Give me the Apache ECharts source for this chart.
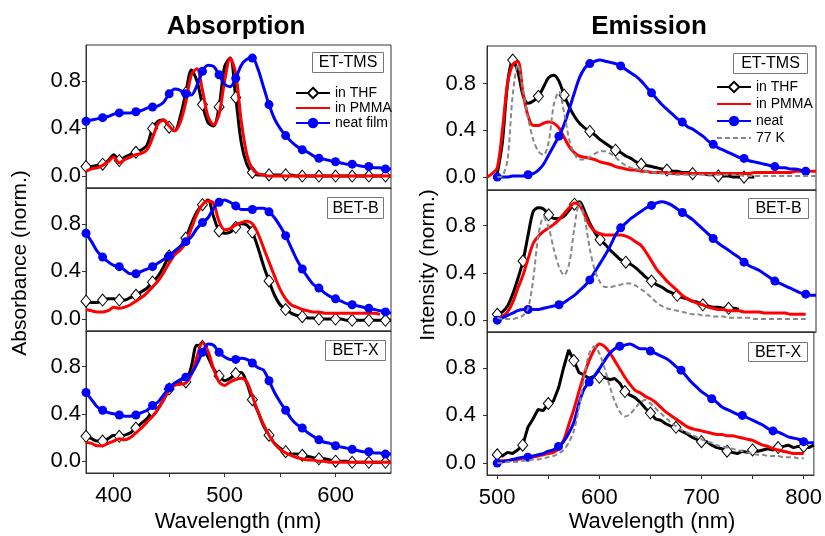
<!DOCTYPE html>
<html>
<head>
<meta charset="utf-8">
<title>Absorption / Emission</title>
<script src="https://cdn.jsdelivr.net/npm/echarts@6/dist/echarts.min.js"></script>
<style>html,body{margin:0;padding:0;background:#fff;}</style>
</head>
<body>
<div id="main" style="width:825px;height:536px;"></div>
<script>
// wavelength grids (nm), 5 nm sampling
var absWl = [];
for (var w = 375; w <= 650; w += 5) absWl.push(w);
var emWl = [];
for (var w2 = 490; w2 <= 810; w2 += 5) emWl.push(w2);

// tick labels
var absTickLabels = [400, 500, 600];
var absTicks = [400, 450, 500, 550, 600];
var emTickLabels = [500, 600, 700, 800];
var emTicks = [500, 550, 600, 650, 700, 750, 800];
var yTickLabels = [0, 0.4, 0.8];
var sampleNames = ['ET-TMS', 'BET-B', 'BET-X'];

// ---- absorption, 375..650 nm ----
var etAbsThf = [
  0.08, 0.08, 0.09, 0.10, 0.13, 0.18, 0.13, 0.16, 0.18, 0.20,
  0.22, 0.26, 0.40, 0.46, 0.47, 0.41, 0.38, 0.50, 0.70, 0.89,
  0.80, 0.60, 0.45, 0.42, 0.58, 0.92, 0.99, 0.66, 0.28, 0.10,
  0.03, 0.01, 0.01, 0.01, 0.01, 0.01, 0.01, 0.01, 0.00, 0.00,
  0.00, 0.00, 0.00, 0.00, 0.00, 0.00, 0.00, 0.00, 0.00, 0.00,
  0.00, 0.00, 0.00, 0.00, 0.00, 0.00];
var etAbsPmma = [
  0.04, 0.06, 0.07, 0.09, 0.12, 0.16, 0.11, 0.14, 0.16, 0.18,
  0.19, 0.22, 0.32, 0.44, 0.47, 0.42, 0.38, 0.45, 0.62, 0.85,
  0.90, 0.72, 0.50, 0.43, 0.52, 0.80, 0.99, 0.86, 0.46, 0.18,
  0.06, 0.02, 0.01, 0.00, 0.00, 0.00, 0.00, 0.00, 0.00, 0.00,
  0.00, 0.00, 0.00, 0.00, 0.00, 0.00, 0.00, 0.00, 0.00, 0.00,
  0.00, 0.00, 0.00, 0.00, 0.00, 0.00];
var etAbsNeat = [
  0.46, 0.47, 0.48, 0.49, 0.50, 0.52, 0.53, 0.53, 0.53, 0.54,
  0.55, 0.57, 0.58, 0.59, 0.62, 0.69, 0.73, 0.72, 0.69, 0.68,
  0.76, 0.88, 0.93, 0.92, 0.85, 0.77, 0.75, 0.82, 0.93, 0.98,
  0.99, 0.90, 0.75, 0.60, 0.48, 0.40, 0.34, 0.29, 0.25, 0.22,
  0.20, 0.17, 0.15, 0.14, 0.13, 0.12, 0.11, 0.10, 0.10, 0.09,
  0.08, 0.08, 0.07, 0.07, 0.06, 0.06];

var betbAbsThf = [
  0.15, 0.14, 0.14, 0.16, 0.17, 0.17, 0.16, 0.16, 0.18, 0.20,
  0.23, 0.26, 0.31, 0.36, 0.44, 0.53, 0.57, 0.61, 0.68, 0.80,
  0.90, 0.96, 1.00, 0.86, 0.74, 0.72, 0.73, 0.77, 0.80, 0.79,
  0.73, 0.60, 0.45, 0.32, 0.20, 0.12, 0.08, 0.05, 0.03, 0.02,
  0.01, 0.01, 0.00, 0.00, 0.00, 0.00, 0.00, -0.01, -0.01, -0.01,
  -0.01, -0.01, -0.01, -0.01, -0.01, -0.01];
var betbAbsPmma = [
  0.08, 0.07, 0.06, 0.06, 0.07, 0.10, 0.09, 0.10, 0.12, 0.15,
  0.18, 0.22, 0.27, 0.32, 0.39, 0.47, 0.54, 0.58, 0.64, 0.76,
  0.88, 0.96, 0.99, 0.97, 0.82, 0.75, 0.76, 0.79, 0.81, 0.82,
  0.80, 0.72, 0.60, 0.48, 0.36, 0.25, 0.17, 0.12, 0.10, 0.08,
  0.07, 0.06, 0.06, 0.05, 0.05, 0.05, 0.05, 0.05, 0.05, 0.05,
  0.05, 0.05, 0.05, 0.04, null, null];
var betbAbsNeat = [
  0.72, 0.65, 0.57, 0.52, 0.48, 0.45, 0.44, 0.41, 0.38, 0.38,
  0.40, 0.42, 0.44, 0.47, 0.50, 0.53, 0.57, 0.61, 0.65, 0.69,
  0.76, 0.81, 0.85, 0.93, 0.98, 1.00, 0.98, 0.95, 0.92, 0.92,
  0.92, 0.93, 0.93, 0.90, 0.85, 0.78, 0.70, 0.60, 0.50, 0.42,
  0.35, 0.29, 0.26, 0.22, 0.19, 0.17, 0.15, 0.13, 0.12, 0.11,
  0.10, 0.09, 0.08, 0.07, 0.06, 0.05];

var betxAbsThf = [
  0.21, 0.19, 0.17, 0.17, 0.19, 0.22, 0.21, 0.22, 0.24, 0.28,
  0.32, 0.36, 0.42, 0.45, 0.52, 0.61, 0.65, 0.66, 0.67, 0.80,
  0.98, 0.97, 0.88, 0.78, 0.72, 0.68, 0.70, 0.74, 0.75, 0.66,
  0.52, 0.42, 0.30, 0.22, 0.15, 0.11, 0.08, 0.06, 0.06, 0.05,
  0.04, 0.03, 0.02, 0.02, 0.01, 0.00, 0.00, 0.00, -0.01, -0.01,
  -0.01, -0.01, -0.01, -0.01, -0.01, -0.01];
var betxAbsPmma = [
  0.16, 0.15, 0.13, 0.13, 0.15, 0.17, 0.19, 0.18, 0.20, 0.24,
  0.28, 0.33, 0.38, 0.44, 0.52, 0.60, 0.64, 0.65, 0.66, 0.73,
  0.88, 1.00, 0.93, 0.78, 0.67, 0.64, 0.67, 0.69, 0.70, 0.67,
  0.55, 0.42, 0.31, 0.22, 0.15, 0.10, 0.07, 0.05, 0.03, 0.02,
  0.01, 0.01, 0.00, 0.00, -0.01, -0.01, -0.01, -0.01, -0.01, -0.01,
  -0.01, -0.01, -0.01, -0.01, -0.01, -0.01];
var betxAbsNeat = [
  0.58, 0.52, 0.46, 0.43, 0.41, 0.40, 0.39, 0.38, 0.38, 0.39,
  0.41, 0.43, 0.47, 0.50, 0.56, 0.62, 0.66, 0.69, 0.71, 0.74,
  0.82, 0.92, 0.99, 0.98, 0.92, 0.88, 0.86, 0.86, 0.87, 0.86,
  0.83, 0.79, 0.77, 0.68, 0.58, 0.50, 0.43, 0.36, 0.31, 0.28,
  0.24, 0.21, 0.18, 0.16, 0.15, 0.13, 0.12, 0.11, 0.10, 0.09,
  0.08, 0.08, 0.07, 0.07, 0.06, 0.06];

// ---- emission, 490..810 nm ----
var etEmThf = [
  null, null, 0.03, 0.30, 0.80, 1.00, 0.90, 0.70, 0.63, 0.65,
  0.69, 0.77, 0.85, 0.87, 0.82, 0.70, 0.60, 0.52, 0.46, 0.42,
  0.39, 0.36, 0.32, 0.29, 0.26, 0.23, 0.21, 0.18, 0.16, 0.13,
  0.11, 0.10, 0.09, 0.08, 0.07, 0.06, 0.05, 0.05, 0.04, 0.04,
  0.03, 0.03, 0.03, 0.02, 0.02, 0.01, 0.01, 0.01, 0.00, 0.00,
  0.00, 0.00, 0.00, null, null, null, null, null, null, null,
  null, null, null, null, null];
var etEmPmma = [
  0.00, 0.03, 0.08, 0.40, 0.80, 0.96, 0.99, 0.72, 0.52, 0.44,
  0.44, 0.46, 0.47, 0.46, 0.42, 0.34, 0.26, 0.21, 0.18, 0.17,
  0.16, 0.15, 0.13, 0.12, 0.11, 0.09, 0.08, 0.07, 0.06, 0.06,
  0.05, 0.05, 0.04, 0.04, 0.04, 0.04, 0.03, 0.03, 0.03, 0.03,
  0.03, 0.03, 0.03, 0.03, 0.03, 0.03, 0.03, 0.03, 0.03, 0.03,
  0.03, 0.03, 0.04, 0.04, 0.04, 0.04, 0.04, 0.04, 0.04, 0.04,
  0.05, 0.05, 0.05, 0.05, 0.05];
var etEmNeat = [
  null, null, 0.00, 0.00, 0.00, 0.01, 0.01, 0.01, 0.02, 0.03,
  0.06, 0.11, 0.19, 0.27, 0.35, 0.45, 0.58, 0.72, 0.85, 0.93,
  0.97, 0.99, 1.00, 0.99, 0.98, 0.97, 0.95, 0.92, 0.89, 0.86,
  0.82, 0.77, 0.72, 0.67, 0.62, 0.58, 0.54, 0.50, 0.47, 0.43,
  0.41, 0.38, 0.35, 0.31, 0.28, 0.25, 0.23, 0.21, 0.19, 0.17,
  0.16, 0.14, 0.13, 0.12, 0.11, 0.10, 0.09, 0.08, 0.08, 0.07,
  0.07, 0.06, 0.05, null, null];
var etEm77 = [
  null, null, 0.00, 0.01, 0.15, 0.70, 0.96, 0.75, 0.50, 0.32,
  0.22, 0.19, 0.30, 0.62, 0.73, 0.55, 0.32, 0.20, 0.15, 0.15,
  0.17, 0.20, 0.22, 0.22, 0.20, 0.17, 0.13, 0.10, 0.08, 0.07,
  0.06, 0.05, 0.04, 0.04, 0.03, 0.03, 0.03, 0.02, 0.02, 0.02,
  0.02, 0.02, 0.02, 0.02, 0.02, 0.02, 0.02, 0.02, 0.02, 0.02,
  0.01, 0.01, 0.01, 0.01, 0.01, 0.01, 0.01, 0.01, 0.01, 0.01,
  0.01, 0.01, 0.01, 0.01, 0.01];

var betbEmThf = [
  null, null, 0.05, 0.07, 0.12, 0.22, 0.35, 0.50, 0.72, 0.92,
  0.95, 0.94, 0.89, 0.86, 0.86, 0.88, 0.93, 0.98, 1.00, 0.92,
  0.82, 0.74, 0.68, 0.64, 0.59, 0.55, 0.51, 0.49, 0.47, 0.44,
  0.40, 0.36, 0.33, 0.30, 0.28, 0.25, 0.23, 0.21, 0.19, 0.18,
  0.16, 0.15, 0.13, 0.12, 0.11, 0.11, 0.10, 0.10, 0.10, 0.09,
  null, null, null, null, null, null, null, null, null, null,
  null, null, null, null, null];
var betbEmPmma = [
  null, null, 0.01, 0.03, 0.07, 0.15, 0.27, 0.38, 0.52, 0.65,
  0.71, 0.75, 0.78, 0.81, 0.85, 0.90, 0.95, 0.99, 0.97, 0.89,
  0.80, 0.75, 0.73, 0.72, 0.72, 0.72, 0.72, 0.71, 0.69, 0.66,
  0.63, 0.57, 0.50, 0.43, 0.38, 0.33, 0.29, 0.25, 0.21, 0.18,
  0.16, 0.14, 0.13, 0.11, 0.10, 0.09, 0.09, 0.08, 0.08, 0.08,
  0.07, 0.07, 0.07, 0.07, 0.06, 0.06, 0.06, 0.06, 0.06, 0.05,
  0.05, 0.05, 0.05, null, null];
var betbEmNeat = [
  null, null, 0.00, 0.02, 0.04, 0.06, 0.08, 0.09, 0.09, 0.09,
  0.09, 0.10, 0.11, 0.12, 0.13, 0.15, 0.18, 0.21, 0.25, 0.29,
  0.34, 0.41, 0.48, 0.55, 0.63, 0.72, 0.78, 0.82, 0.86, 0.89,
  0.92, 0.95, 0.97, 0.99, 1.00, 0.99, 0.97, 0.94, 0.91, 0.88,
  0.85, 0.81, 0.77, 0.73, 0.69, 0.65, 0.62, 0.59, 0.56, 0.53,
  0.49, 0.46, 0.44, 0.42, 0.39, 0.36, 0.33, 0.31, 0.29, 0.27,
  0.25, 0.23, 0.22, 0.21, 0.21];
var betbEm77 = [
  null, null, 0.02, 0.01, 0.01, 0.01, 0.02, 0.04, 0.10, 0.35,
  0.72, 0.87, 0.78, 0.60, 0.45, 0.38, 0.48, 0.78, 0.99, 0.86,
  0.60, 0.42, 0.32, 0.28, 0.28, 0.29, 0.30, 0.31, 0.31, 0.29,
  0.26, 0.23, 0.19, 0.15, 0.12, 0.10, 0.09, 0.08, 0.07, 0.06,
  0.05, 0.05, 0.04, 0.04, 0.03, 0.03, 0.03, 0.02, 0.02, 0.02,
  0.02, 0.02, 0.01, 0.01, 0.01, 0.01, 0.01, 0.01, 0.01, 0.01,
  0.01, 0.01, 0.01, null, null];

var betxEmThf = [
  null, null, 0.07, 0.06, 0.09, 0.08, 0.11, 0.15, 0.30, 0.37,
  0.45, 0.44, 0.50, 0.52, 0.63, 0.80, 0.95, 0.86, 0.76, 0.74,
  0.71, 0.73, 0.72, 0.72, 0.70, 0.71, 0.67, 0.60, 0.57, 0.55,
  0.51, 0.46, 0.42, 0.37, 0.36, 0.33, 0.31, 0.30, 0.27, 0.25,
  0.22, 0.20, 0.18, 0.18, 0.15, 0.13, 0.12, 0.10, 0.09, 0.08,
  0.10, 0.09, 0.11, 0.10, 0.11, 0.12, 0.11, 0.13, 0.14, 0.15,
  0.13, 0.14, 0.14, 0.13, 0.15];
var betxEmPmma = [
  null, null, 0.01, 0.02, 0.02, 0.03, 0.03, 0.04, 0.04, 0.05,
  0.06, 0.07, 0.08, 0.09, 0.12, 0.19, 0.32, 0.45, 0.60, 0.74,
  0.86, 0.95, 1.00, 0.98, 0.93, 0.86, 0.79, 0.72, 0.66, 0.61,
  0.59, 0.56, 0.54, 0.51, 0.47, 0.43, 0.40, 0.37, 0.34, 0.31,
  0.29, 0.28, 0.27, 0.26, 0.25, 0.24, 0.24, 0.23, 0.23, 0.22,
  0.21, 0.20, 0.19, 0.17, 0.15, 0.14, 0.12, 0.11, 0.10, 0.09,
  0.08, 0.08, 0.08, null, null];
var betxEmNeat = [
  null, null, 0.00, 0.01, 0.02, 0.03, 0.04, 0.05, 0.05, 0.06,
  0.07, 0.08, 0.10, 0.11, 0.14, 0.18, 0.25, 0.34, 0.50, 0.62,
  0.68, 0.73, 0.79, 0.86, 0.92, 0.96, 0.98, 0.99, 1.00, 0.98,
  0.96, 0.96, 0.94, 0.92, 0.90, 0.88, 0.85, 0.81, 0.78, 0.73,
  0.68, 0.64, 0.60, 0.57, 0.54, 0.51, 0.47, 0.45, 0.43, 0.41,
  0.40, 0.38, 0.36, 0.34, 0.32, 0.29, 0.27, 0.26, 0.24, 0.22,
  0.21, 0.20, 0.18, 0.17, 0.17];
var betxEm77 = [
  null, null, 0.00, 0.00, 0.01, 0.01, 0.01, 0.02, 0.02, 0.03,
  0.03, 0.04, 0.05, 0.06, 0.08, 0.11, 0.17, 0.27, 0.46, 0.72,
  0.92, 0.98, 0.92, 0.80, 0.65, 0.52, 0.43, 0.39, 0.41, 0.46,
  0.51, 0.53, 0.50, 0.46, 0.42, 0.38, 0.34, 0.31, 0.28, 0.26,
  0.24, 0.22, 0.20, 0.18, 0.17, 0.15, 0.14, 0.13, 0.12, 0.11,
  0.10, 0.09, 0.08, 0.07, 0.07, 0.06, 0.06, 0.06, 0.05, 0.05,
  0.05, 0.04, 0.04, null, null];

var FONT = '"Liberation Sans", Arial, sans-serif';
var myChart = echarts.init(document.getElementById('main'));

// build [x, y] items; only every `step`-th point (from `offset`) keeps its marker
function pts(xs, ys, step, offset) {
  var out = [];
  for (var i = 0; i < xs.length; i++) {
    if (ys[i] === null) continue;
    var item = { value: [xs[i], ys[i]] };
    if (!step || i < offset || (i - offset) % step !== 0) item.symbol = 'none';
    out.push(item);
  }
  return out;
}

function thfLine(g, xs, ys, step, off, smooth) {
  return {
    name: 'in THF', type: 'line', xAxisIndex: g, yAxisIndex: g, z: 3,
    data: pts(xs, ys, step, off), smooth: smooth,
    symbol: 'diamond', symbolSize: [10, 12],
    lineStyle: { color: '#000', width: 3 },
    itemStyle: { color: '#fff', borderColor: '#000', borderWidth: 1 }
  };
}
function pmmaLine(g, xs, ys) {
  return {
    name: 'in PMMA', type: 'line', xAxisIndex: g, yAxisIndex: g, z: 4,
    data: pts(xs, ys, 0, 0), smooth: 0.3, symbol: 'none',
    lineStyle: { color: '#ff0000', width: 3 }, itemStyle: { color: '#ff0000' }
  };
}
function neatLine(g, name, xs, ys, step, off) {
  return {
    name: name, type: 'line', xAxisIndex: g, yAxisIndex: g, z: 5,
    data: pts(xs, ys, step, off), smooth: 0.3,
    symbol: 'circle', symbolSize: 9,
    lineStyle: { color: '#0000ff', width: 3 }, itemStyle: { color: '#0000ff' }
  };
}
function lowTLine(g, xs, ys) {
  return {
    name: '77 K', type: 'line', xAxisIndex: g, yAxisIndex: g, z: 6,
    data: pts(xs, ys, 0, 0), smooth: 0.3, symbol: 'none',
    lineStyle: { color: '#888888', width: 2, type: [5, 3] }, itemStyle: { color: '#888888' }
  };
}

var grids = [
  { left: 86, top: 45, width: 305, height: 143 },
  { left: 86, top: 188, width: 305, height: 143 },
  { left: 86, top: 331, width: 305, height: 142 },
  { left: 487, top: 46, width: 329, height: 144 },
  { left: 487, top: 190, width: 329, height: 142 },
  { left: 487, top: 332, width: 329, height: 143 }
];
grids.forEach(function (g) {
  g.show = true; g.borderColor = '#333'; g.borderWidth = 1;
});

var xAxes = [], yAxes = [];
for (var g = 0; g < 6; g++) {
  var isAbs = g < 3;
  var isBottom = (g === 2 || g === 5);
  xAxes.push({
    type: 'value', gridIndex: g,
    min: isAbs ? 375 : 490, max: isAbs ? 650 : 810,
    axisLine: { show: true, onZero: false, lineStyle: { color: '#333' } },
    splitLine: { show: false },
    axisTick: { show: isBottom, length: 4, customValues: isAbs ? absTicks : emTicks, lineStyle: { color: '#333' } },
    axisLabel: { show: isBottom, customValues: isAbs ? absTickLabels : emTickLabels, margin: 12,
      fontSize: 22, color: '#000', fontFamily: FONT }
  });
  yAxes.push({
    type: 'value', gridIndex: g,
    min: g === 3 ? -0.11 : -0.1, max: g === 3 ? 1.12 : 1.1,
    axisLine: { show: true, onZero: false, lineStyle: { color: '#333' } },
    splitLine: { show: false },
    axisTick: { length: 4, customValues: yTickLabels, lineStyle: { color: '#333' } },
    axisLabel: { customValues: yTickLabels, margin: isAbs ? 5 : 11, fontSize: 22, color: '#000', fontFamily: FONT,
      formatter: function (v) { return v.toFixed(1); } }
  });
}

var series = [
  thfLine(0, absWl, etAbsThf, 3, 0, 0.3), pmmaLine(0, absWl, etAbsPmma), neatLine(0, 'neat film', absWl, etAbsNeat, 3, 0),
  thfLine(1, absWl, betbAbsThf, 3, 0, 0.3), pmmaLine(1, absWl, betbAbsPmma), neatLine(1, 'neat film', absWl, betbAbsNeat, 3, 0),
  thfLine(2, absWl, betxAbsThf, 3, 0, 0.3), pmmaLine(2, absWl, betxAbsPmma), neatLine(2, 'neat film', absWl, betxAbsNeat, 3, 0),
  thfLine(3, emWl, etEmThf, 5, 0, 0.3), pmmaLine(3, emWl, etEmPmma), neatLine(3, 'neat', emWl, etEmNeat, 6, 2), lowTLine(3, emWl, etEm77),
  thfLine(4, emWl, betbEmThf, 5, 2, 0.3), pmmaLine(4, emWl, betbEmPmma), neatLine(4, 'neat', emWl, betbEmNeat, 6, 2), lowTLine(4, emWl, betbEm77),
  thfLine(5, emWl, betxEmThf, 5, 2, false), pmmaLine(5, emWl, betxEmPmma), neatLine(5, 'neat', emWl, betxEmNeat, 6, 2), lowTLine(5, emWl, betxEm77)
];

// sample name boxes [x, y, w, h]
var boxes = [
  [312, 52, 71, 20], [327, 197, 56, 21], [325, 340, 60, 20],
  [733, 53, 74, 20], [748, 198, 60, 20], [748, 342, 59, 19]
];
var graphic = [
  { type: 'text', x: 236, y: 27, style: { text: 'Absorption', align: 'center', verticalAlign: 'middle',
      fontSize: 26, fontWeight: 'bold', fontFamily: FONT, fill: '#000' } },
  { type: 'text', x: 649, y: 27, style: { text: 'Emission', align: 'center', verticalAlign: 'middle',
      fontSize: 26, fontWeight: 'bold', fontFamily: FONT, fill: '#000' } },
  { type: 'text', x: 20, y: 263, rotation: Math.PI / 2, style: { text: 'Absorbance (norm.)', align: 'center',
      verticalAlign: 'middle', fontSize: 21, fontFamily: FONT, fill: '#000' } },
  { type: 'text', x: 428, y: 265, rotation: Math.PI / 2, style: { text: 'Intensity (norm.)', align: 'center',
      verticalAlign: 'middle', fontSize: 21, fontFamily: FONT, fill: '#000' } },
  { type: 'text', x: 238, y: 522, style: { text: 'Wavelength (nm)', align: 'center', verticalAlign: 'middle',
      fontSize: 22, fontFamily: FONT, fill: '#000' } },
  { type: 'text', x: 652, y: 522, style: { text: 'Wavelength (nm)', align: 'center', verticalAlign: 'middle',
      fontSize: 22, fontFamily: FONT, fill: '#000' } }
];
boxes.forEach(function (b, i) {
  graphic.push({ type: 'rect', z: 100, shape: { x: b[0] + 0.5, y: b[1] + 0.5, width: b[2], height: b[3] },
    style: { fill: '#fff', stroke: '#777', lineWidth: 1 } });
  graphic.push({ type: 'text', z: 101, x: b[0] + b[2] / 2 + 0.5, y: b[1] + b[3] / 2 + 1,
    style: { text: sampleNames[i % 3], align: 'center', verticalAlign: 'middle', fontSize: 16, fontFamily: FONT, fill: '#000' } });
});

// plain-line legend entries: hide the default marker
var noMark = { opacity: 0 };
var legendText = { fontSize: 14, fontFamily: FONT, color: '#000' };

var option = {
  animation: false,
  backgroundColor: '#fff',
  grid: grids,
  xAxis: xAxes,
  yAxis: yAxes,
  legend: [
    { orient: 'vertical', left: 295, top: 86, padding: 0, itemWidth: 34, itemHeight: 13, itemGap: 1,
      selectedMode: false, textStyle: legendText,
      data: ['in THF', { name: 'in PMMA', itemStyle: noMark }, 'neat film'] },
    { orient: 'vertical', left: 716, top: 80, padding: 0, itemWidth: 34, itemHeight: 13, itemGap: 3,
      selectedMode: false, textStyle: legendText,
      data: ['in THF', { name: 'in PMMA', itemStyle: noMark }, 'neat', { name: '77 K', itemStyle: noMark }] }
  ],
  graphic: graphic,
  series: series
};
myChart.setOption(option);
</script>
</body>
</html>
